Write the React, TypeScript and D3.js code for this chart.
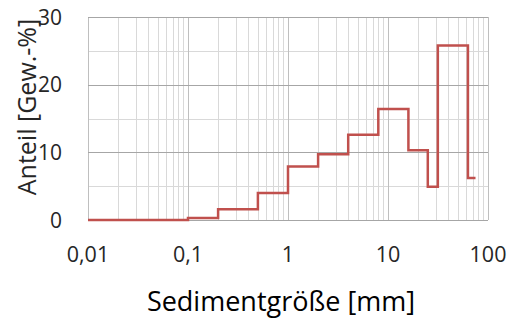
import { useRef, useEffect } from "react";
import * as d3 from "d3";

// class edges [mm] and share in each class [wt-%]
const EDGES = [0.01, 0.1, 0.2, 0.5, 1, 2, 4, 8, 16, 25, 31.5, 63, 75];
const SHARES = [0, 0.3, 1.6, 4.0, 7.9, 9.7, 12.6, 16.4, 10.3, 4.9, 25.8, 6.2, 6.2];
const X_TICKS = [0.01, 0.1, 1, 10, 100];
const X_TICK_LABELS = ["0,01", "0,1", "1", "10", "100"];
const Y_TICKS = [0, 10, 20, 30];

const FONT = "'Open Sans', 'Noto Sans', sans-serif";

export default function App() {
  const svgRef = useRef<SVGSVGElement>(null);

  useEffect(() => {
    if (!svgRef.current) return;
    const svg = d3.select(svgRef.current);
    svg.selectAll("*").remove();

    const x = d3.scaleLog().domain([0.01, 100]).range([88, 488]);
    const y = d3.scaleLinear().domain([0, 30]).range([220, 17]);

    const grid = svg.append("g");

    // vertical grid: minor then major
    const minor: number[] = [];
    for (let e = -2; e < 2; e++) {
      for (let m = 2; m <= 9; m++) minor.push(m * Math.pow(10, e));
    }
    grid
      .selectAll("line.vminor")
      .data(minor)
      .enter()
      .append("line")
      .attr("x1", (d) => Math.round(x(d)) + 0.5)
      .attr("x2", (d) => Math.round(x(d)) + 0.5)
      .attr("y1", y(30))
      .attr("y2", y(0))
      .attr("stroke", "#d9d9d9")
      .attr("stroke-width", 1);

    grid
      .selectAll("line.hminor")
      .data([5, 15, 25])
      .enter()
      .append("line")
      .attr("x1", x(0.01))
      .attr("x2", x(100))
      .attr("y1", (d) => Math.round(y(d)) + 0.5)
      .attr("y2", (d) => Math.round(y(d)) + 0.5)
      .attr("stroke", "#d9d9d9")
      .attr("stroke-width", 1);

    grid
      .selectAll("line.vmajor")
      .data(X_TICKS)
      .enter()
      .append("line")
      .attr("x1", (d) => Math.round(x(d)) + 0.5)
      .attr("x2", (d) => Math.round(x(d)) + 0.5)
      .attr("y1", y(30))
      .attr("y2", y(0))
      .attr("stroke", "#bfbfbf")
      .attr("stroke-width", 1);

    grid
      .selectAll("line.hmajor")
      .data(Y_TICKS)
      .enter()
      .append("line")
      .attr("x1", x(0.01))
      .attr("x2", x(100))
      .attr("y1", (d) => Math.round(y(d)) + 0.5)
      .attr("y2", (d) => Math.round(y(d)) + 0.5)
      .attr("stroke", "#a6a6a6")
      .attr("stroke-width", 1);

    // step line
    const line = d3
      .line<number>()
      .x((_, i) => x(EDGES[i]))
      .y((d) => y(d))
      .curve(d3.curveStepAfter);

    svg
      .append("path")
      .attr("d", line(SHARES))
      .attr("fill", "none")
      .attr("stroke", "#c0504d")
      .attr("stroke-width", 2.5);

    // tick labels
    svg
      .selectAll("text.xt")
      .data(X_TICKS)
      .enter()
      .append("text")
      .attr("x", (d) => x(d))
      .attr("y", 262)
      .attr("text-anchor", "middle")
      .attr("font-family", FONT)
      .attr("font-size", 21.5)
      .attr("fill", "#262626")
      .text((_, i) => X_TICK_LABELS[i]);

    svg
      .selectAll("text.yt")
      .data(Y_TICKS)
      .enter()
      .append("text")
      .attr("x", 62)
      .attr("y", (d) => y(d))
      .attr("dy", "0.36em")
      .attr("text-anchor", "end")
      .attr("font-family", FONT)
      .attr("font-size", 21)
      .attr("fill", "#262626")
      .text((d) => String(d));

    // axis titles
    svg
      .append("text")
      .attr("x", 281)
      .attr("y", 311)
      .attr("text-anchor", "middle")
      .attr("font-family", FONT)
      .attr("font-size", 27)
      .attr("fill", "#000")
      .text("Sedimentgröße [mm]");

    svg
      .append("text")
      .attr("transform", "translate(36,107) rotate(-90)")
      .attr("text-anchor", "middle")
      .attr("font-family", FONT)
      .attr("font-size", 25)
      .attr("fill", "#262626")
      .text("Anteil [Gew.-%]");
  }, []);

  return (
    <svg
      ref={svgRef}
      width={510}
      height={320}
      style={{ position: "absolute", left: 0, top: 0, background: "#fff" }}
    />
  );
}
